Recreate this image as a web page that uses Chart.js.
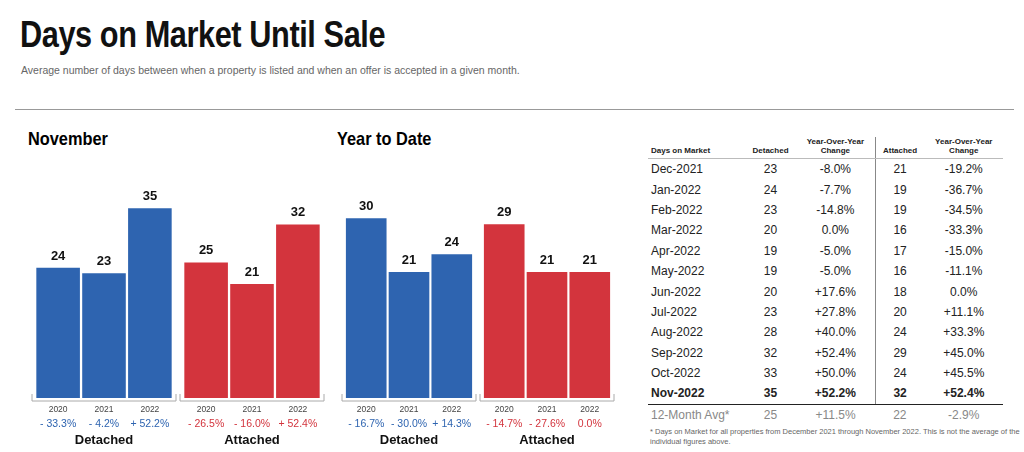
<!DOCTYPE html>
<html><head><meta charset="utf-8">
<script src="https://cdn.jsdelivr.net/npm/chart.js@4"></script>
<style>
body{margin:0;width:1024px;height:452px;background:#fff;font-family:"Liberation Sans",Arial,sans-serif;position:relative;overflow:hidden}
h1{position:absolute;left:20px;top:14px;margin:0;font-weight:bold;font-size:37px;letter-spacing:-0.5px;color:#111;transform:scaleX(0.83);transform-origin:left top;white-space:nowrap}
.sub{position:absolute;left:21px;top:64px;font-size:10.5px;color:#666}
.rule{position:absolute;left:15px;right:10px;top:109px;border-top:1.5px solid #999}
.ct{position:absolute;top:128px;font-weight:bold;font-size:19px;transform:scaleX(0.86);transform-origin:left top}
.cv{position:absolute;top:150px;height:300px}
table{position:absolute;left:648px;top:137px;width:355px;border-collapse:collapse;font-size:12px;color:#222}
th{font-size:8px;font-weight:bold;vertical-align:bottom;padding:0 2px 3px;border-bottom:1px solid #bbb}
td{height:20.4px;padding:0;text-align:center}
td:first-child,th:first-child{text-align:left;padding-left:3px}
td.sep,th.sep{border-right:1px solid #888}
tr.bold td{font-weight:bold;border-bottom:1px solid #222}
tr.avg td{color:#888}
.foot{position:absolute;left:650px;top:427px;font-size:7.5px;color:#666;width:370px;line-height:10px}
</style></head><body>
<h1>Days on Market Until Sale</h1>
<div class="sub">Average number of days between when a property is listed and when an offer is accepted in a given month.</div>
<div class="rule"></div>
<div class="ct" style="left:28px">November</div>
<div class="ct" style="left:337px">Year to Date</div>
<div class="cv" style="left:30px;width:296px"><canvas id="c1"></canvas></div>
<div class="cv" style="left:340px;width:276px"><canvas id="c2"></canvas></div>
<table id="tbl"></table>
<div class="foot">* Days on Market for all properties from December 2021 through November 2022. This is not the average of the individual figures above.</div>
<script>
const years = ['2020', '2021', '2022'];
const groups = ['Detached', 'Attached'];
const novDetached = [24, 23, 35];
const novAttached = [25, 21, 32];
const novDetChg = ['- 33.3%', '- 4.2%', '+ 52.2%'];
const novAttChg = ['- 26.5%', '- 16.0%', '+ 52.4%'];
const ytdDetached = [30, 21, 24];
const ytdAttached = [29, 21, 21];
const ytdDetChg = ['- 16.7%', '- 30.0%', '+ 14.3%'];
const ytdAttChg = ['- 14.7%', '- 27.6%', '0.0%'];

const months = ['Dec-2021','Jan-2022','Feb-2022','Mar-2022','Apr-2022','May-2022','Jun-2022','Jul-2022','Aug-2022','Sep-2022','Oct-2022','Nov-2022'];
const tblDetached = [23,24,23,20,19,19,20,23,28,32,33,35];
const tblDetChg = ['-8.0%','-7.7%','-14.8%','0.0%','-5.0%','-5.0%','+17.6%','+27.8%','+40.0%','+52.4%','+50.0%','+52.2%'];
const tblAttached = [21,19,19,16,17,16,18,20,24,29,24,32];
const tblAttChg = ['-19.2%','-36.7%','-34.5%','-33.3%','-15.0%','-11.1%','0.0%','+11.1%','+33.3%','+45.0%','+45.5%','+52.4%'];
const avgRow = ['12-Month Avg*', 25, '+11.5%', 22, '-2.9%'];

const BLUE = '#2e64b0', RED = '#d3343d';

function makeChart(id, det, att, detChg, attChg, yMax) {
  const datasets = years.map((y, i) => ({
    label: y,
    data: [det[i], att[i]],
    backgroundColor: [BLUE, RED],
    categoryPercentage: 0.93,
    barPercentage: 0.95
  }));
  const under = {
    id: 'under',
    afterDatasetsDraw(chart) {
      const ctx = chart.ctx;
      const base = chart.chartArea.bottom;
      const chg = [detChg, attChg];
      const x = chart.scales.x;
      ctx.save();
      groups.forEach((g, gi) => {
        const left = x.getPixelForValue(gi) - x.width / 4 + 2;
        const right = x.getPixelForValue(gi) + x.width / 4 - 2;
        ctx.strokeStyle = '#aaa'; ctx.lineWidth = 1;
        ctx.beginPath();
        ctx.moveTo(left, base - 4); ctx.lineTo(left, base + 3);
        ctx.lineTo(right, base + 3); ctx.lineTo(right, base - 4);
        ctx.stroke();
        ctx.fillStyle = '#111'; ctx.textAlign = 'center';
        ctx.font = 'bold 13px "Liberation Sans", Arial';
        ctx.fillText(g, x.getPixelForValue(gi), base + 46);
      });
      chart.data.datasets.forEach((ds, di) => {
        chart.getDatasetMeta(di).data.forEach((bar, gi) => {
          ctx.textAlign = 'center';
          ctx.fillStyle = '#111';
          ctx.font = 'bold 13px "Liberation Sans", Arial';
          ctx.fillText(ds.data[gi], bar.x, bar.y - 8);
          ctx.fillStyle = '#444';
          ctx.font = '8.5px "Liberation Sans", Arial';
          ctx.fillText(years[di], bar.x, base + 14);
          ctx.fillStyle = gi === 0 ? BLUE : RED;
          ctx.font = '10.5px "Liberation Sans", Arial';
          ctx.fillText(chg[gi][di], bar.x, base + 29);
        });
      });
      ctx.restore();
    }
  };
  new Chart(document.getElementById(id), {
    type: 'bar',
    data: { labels: groups, datasets },
    options: {
      responsive: true, maintainAspectRatio: false, animation: false,
      layout: { padding: { top: 31, bottom: 52, left: 0, right: 0 } },
      plugins: { legend: { display: false }, tooltip: { enabled: false } },
      scales: {
        x: { display: false },
        y: { display: false, min: 0, max: yMax }
      }
    },
    plugins: [under]
  });
}
makeChart('c1', novDetached, novAttached, novDetChg, novAttChg, 40);
makeChart('c2', ytdDetached, ytdAttached, ytdDetChg, ytdAttChg, 36.2);

let html = '<tr><th style="width:92px">Days on Market</th><th>Detached</th><th class="sep">Year-Over-Year<br>Change</th><th>Attached</th><th>Year-Over-Year<br>Change</th></tr>';
months.forEach((m, i) => {
  html += `<tr${i === months.length - 1 ? ' class="bold"' : ''}><td>${m}</td><td>${tblDetached[i]}</td><td class="sep">${tblDetChg[i]}</td><td>${tblAttached[i]}</td><td>${tblAttChg[i]}</td></tr>`;
});
html += `<tr class="avg"><td>${avgRow[0]}</td><td>${avgRow[1]}</td><td>${avgRow[2]}</td><td>${avgRow[3]}</td><td>${avgRow[4]}</td></tr>`;
document.getElementById('tbl').innerHTML = html;
</script>
</body></html>
